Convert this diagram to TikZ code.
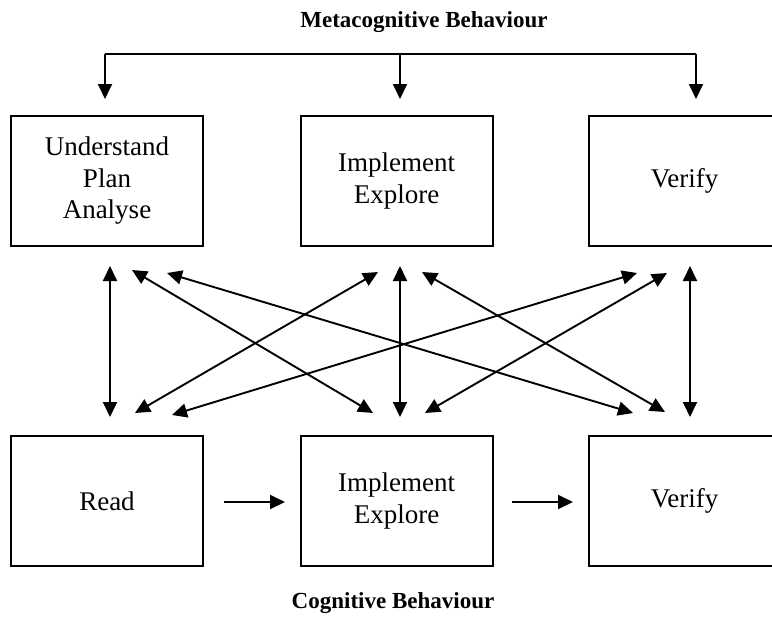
\documentclass[tikz,border=0pt]{standalone}
\usepackage{fontspec}
\setmainfont{Liberation Serif}
\usetikzlibrary{arrows.meta}
\begin{document}
\begin{tikzpicture}[x=1pt,y=-1pt,
  box/.style={draw,line width=2pt,minimum width=192pt,minimum height=130pt,
    inner sep=0pt,align=center,font=\fontsize{27}{31.5}\selectfont},
  wire/.style={line width=1.9pt},
  onehead/.style={wire,-{Triangle[length=15pt,width=14pt]}},
  twohead/.style={wire,{Triangle[length=15pt,width=14pt]}-{Triangle[length=15pt,width=14pt]}},
  heading/.style={font=\fontsize{23}{27}\selectfont\bfseries}]
\useasboundingbox (0,0) rectangle (772,619);

% headings
\node[heading] (meta) at (424,22) {Metacognitive Behaviour};
\node[heading] (cog)  at (393,603) {Cognitive Behaviour};

% metacognitive row
\node[box] (U)  at (107,181)   {Understand\\Plan\\Analyse};
\node[box] (IE) at (396.5,181) {Implement\\Explore};
\node[box] (V)  at (684.5,181) {Verify};

% cognitive row
\node[box] (R)   at (107,501)   {Read};
\node[box] (IE2) at (396.5,501) {Implement\\Explore};
\node[box] (V2)  at (684.5,501) {Verify};

% bracket feeding the metacognitive boxes
\coordinate (bl) at (105,54);
\coordinate (bm) at (400,54);
\coordinate (br) at (696,54);
\coordinate (tU) at (105,99);
\coordinate (tE) at (400,99);
\coordinate (tV) at (696,99);
\draw[wire] (bl) -- (br);
\draw[onehead] (bl) -- (tU);
\draw[onehead] (bm) -- (tE);
\draw[onehead] (br) -- (tV);

% arrow ends below the metacognitive boxes
\coordinate (u0) at (110,266);
\coordinate (u1) at (132,270);
\coordinate (u2) at (167,273);
\coordinate (e1) at (378,272);
\coordinate (e0) at (400,266);
\coordinate (e2) at (422,272);
\coordinate (v1) at (637,273);
\coordinate (v2) at (667,273);
\coordinate (v0) at (690,266);

% arrow ends above the cognitive boxes
\coordinate (r0) at (110,417);
\coordinate (r1) at (135,413);
\coordinate (r2) at (172,415);
\coordinate (f1) at (373,413);
\coordinate (f0) at (400,417);
\coordinate (f2) at (425,413);
\coordinate (w1) at (633,413);
\coordinate (w2) at (665,412);
\coordinate (w0) at (690,417);

% links between the two levels
\draw[twohead] (u0) -- (r0);
\draw[twohead] (u1) -- (f1);
\draw[twohead] (u2) -- (w1);
\draw[twohead] (e1) -- (r1);
\draw[twohead] (e0) -- (f0);
\draw[twohead] (e2) -- (w2);
\draw[twohead] (v1) -- (r2);
\draw[twohead] (v2) -- (f2);
\draw[twohead] (v0) -- (w0);

% sequence of cognitive steps
\coordinate (s1a) at (224,502);
\coordinate (s1b) at (285,502);
\coordinate (s2a) at (512,502);
\coordinate (s2b) at (573,502);
\draw[onehead] (s1a) -- (s1b);
\draw[onehead] (s2a) -- (s2b);
\end{tikzpicture}
\end{document}
